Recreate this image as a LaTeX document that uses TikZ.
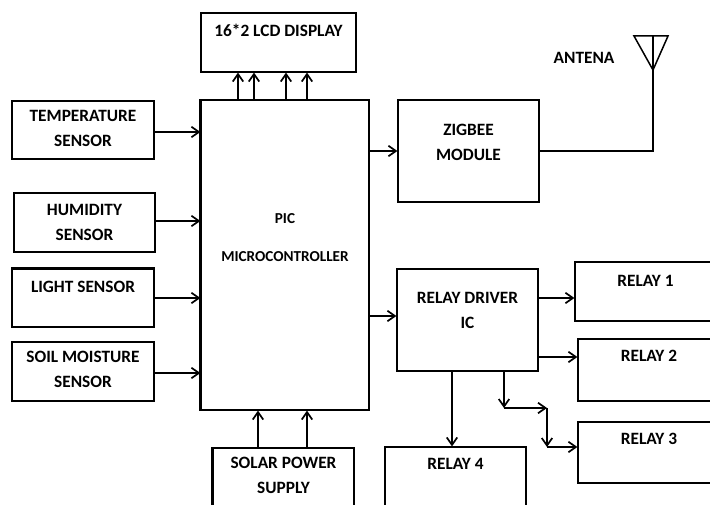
\documentclass[tikz,border=0pt]{standalone}
\usepackage{fontspec}
\setmainfont{Carlito}
\usetikzlibrary{arrows.meta}
\begin{document}
\begin{tikzpicture}[x=1pt,y=-1pt,
  box/.style={draw, line width=1.2pt, inner sep=0pt, anchor=center},
  txt/.style={font=\bfseries\fontsize{17.3}{25}\selectfont, align=center, inner sep=0pt},
  mtxt/.style={font=\bfseries\fontsize{15.2}{38}\selectfont, align=center, inner sep=0pt},
  arr/.style={line width=1.6pt, -{Straight Barb[length=7.5pt,width=10.5pt,line width=1.7pt]}},
  wire/.style={line width=1.5pt}]
\path[use as bounding box] (0,0) rectangle (710,505);
\clip (0,0) rectangle (710,505);
\fill[white] (0,0) rectangle (710,505);

% boxes
\node[box, minimum width=155pt, minimum height=59pt,
  label={[txt,yshift=12.5pt]center:16*2 LCD DISPLAY}] (lcd) at (278.5,42.5) {};
\node[box, minimum width=168pt, minimum height=310pt,
  label={[mtxt,yshift=17pt]center:PIC\\MICROCONTROLLER}] (mcu) at (285,255) {};
\node[box, minimum width=142pt, minimum height=58pt,
  label={[txt,yshift=1.5pt]center:TEMPERATURE\\SENSOR}] (temp) at (83,130) {};
\node[box, minimum width=141pt, minimum height=59pt,
  label={[txt,yshift=0pt]center:HUMIDITY\\SENSOR}] (hum) at (84.5,222.5) {};
\node[box, minimum width=142pt, minimum height=58pt,
  label={[txt,yshift=11pt]center:LIGHT SENSOR}] (light) at (83,298) {};
\node[box, minimum width=142pt, minimum height=59pt,
  label={[txt,yshift=2pt]center:SOIL MOISTURE\\SENSOR}] (soil) at (83,371.5) {};
\node[box, minimum width=141pt, minimum height=102pt,
  label={[txt,yshift=9pt]center:ZIGBEE\\MODULE}] (zig) at (468.5,151) {};
\node[box, minimum width=141pt, minimum height=102pt,
  label={[txt,yshift=9.5pt]center:RELAY DRIVER\\IC}] (rd) at (467.5,320) {};
\node[box, minimum width=145pt, minimum height=59pt,
  label={[txt,yshift=10.5pt,xshift=-2pt]center:RELAY 1}] (r1) at (647.5,291.5) {};
\node[box, minimum width=142pt, minimum height=62pt,
  label={[txt,yshift=14pt]center:RELAY 2}] (r2) at (649,370) {};
\node[box, minimum width=142pt, minimum height=61pt,
  label={[txt,yshift=13.5pt]center:RELAY 3}] (r3) at (649,452.5) {};
\node[box, minimum width=141pt, minimum height=73pt,
  label={[txt,yshift=19.5pt]center:RELAY 4}] (r4) at (455.5,483.5) {};
\node[box, minimum width=141pt, minimum height=72pt,
  label={[txt,yshift=9pt]center:SOLAR POWER\\SUPPLY}] (solar) at (283.5,484) {};

% heavier edges
\draw[line width=3pt] (mcu.north west) -- (mcu.south west);
\draw[line width=3pt] (solar.north west) -- (solar.south west);
\draw[line width=2.2pt] (light.north west) -- (light.north east);

% sensors to MCU
\draw[arr] ([yshift=-2pt]temp.east) -- ([yshift=-2pt]temp.east -| mcu.west);
\draw[arr] ([yshift=1.5pt]hum.east) -- ([yshift=1.5pt]hum.east -| mcu.west);
\draw[arr] (light.east) -- (light.east -| mcu.west);
\draw[arr] ([yshift=-1.5pt]soil.east) -- ([yshift=-1.5pt]soil.east -| mcu.west);

% MCU to LCD
\foreach \dx in {-47,-31,1,22}
  \draw[arr] ([xshift=\dx pt]mcu.north) -- ([xshift=\dx pt]mcu.north |- lcd.south);

% solar to MCU
\foreach \dx in {-27,22}
  \draw[arr] ([xshift=\dx pt]mcu.south |- solar.north) -- ([xshift=\dx pt]mcu.south);

% MCU to zigbee and relay driver
\draw[arr] (mcu.east |- zig.west) -- (zig.west);
\draw[arr] ([yshift=4pt]mcu.east |- rd.west) -- ([yshift=4pt]rd.west);

% antenna
\coordinate (ant) at (653,36);
\coordinate (antbend) at (653,151);
\draw[wire] (zig.east) -- (antbend) -- (ant);
\draw[wire, line join=miter] (634,36) -- (668,36) -- (653,70) -- cycle;
\node[txt] (antlbl) at (584,57.5) {ANTENA};

% relay driver outputs
\draw[arr] ([yshift=22pt]rd.east) -- ([yshift=22pt]rd.east -| r1.west);
\draw[arr] ([yshift=-37pt]rd.east) -- ([yshift=-37pt]rd.east -| r2.west);
\draw[arr] ([xshift=-15.5pt]rd.south) -- ([xshift=-15.5pt]rd.south |- r4.north);
\coordinate (k1) at (504,408);
\coordinate (k2) at (547,408);
\coordinate (k3) at (547,447);
\draw[arr] (k1 |- rd.south) -- (k1);
\draw[arr] (k1) -- (k2);
\draw[arr] (k2) -- (k3);
\draw[arr] (k3) -- (k3 -| r3.west);
\end{tikzpicture}
\end{document}
